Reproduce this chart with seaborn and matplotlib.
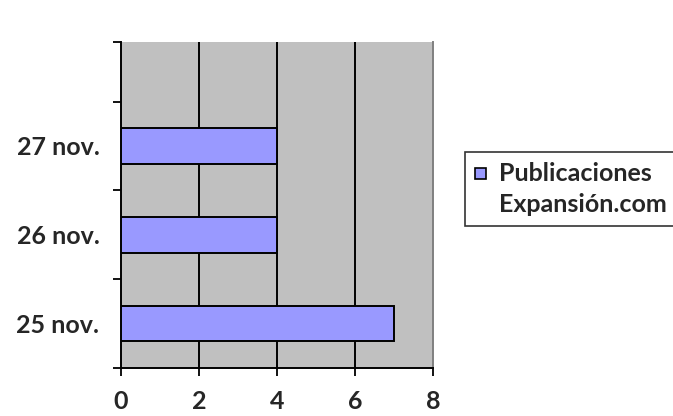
import matplotlib
matplotlib.use("Agg")
import matplotlib.pyplot as plt
import seaborn as sns
import pandas as pd
from matplotlib.patches import Patch, Rectangle
from matplotlib.legend_handler import HandlerPatch

# Daily publication counts
dates = ["25 nov.", "26 nov.", "27 nov."]
counts = [7, 4, 4]
series_name = "Publicaciones\nExpansión.com"
x_ticks = [0, 2, 4, 6, 8]

sns.set_theme(style="white")
plt.rcParams["font.family"] = ["Lato", "DejaVu Sans"]
plt.rcParams["font.weight"] = "bold"

FS = 18
df = pd.DataFrame({"fecha": dates, "publicaciones": counts})

fig = plt.figure(figsize=(6.73, 4.16), dpi=100)
ax = fig.add_axes([121 / 673, 1 - 368 / 416, (433 - 121) / 673, (368 - 42) / 416])
ax.set_facecolor("#C0C0C0")

order = dates[::-1]  # latest date on top
sns.barplot(data=df, x="publicaciones", y="fecha", order=order, orient="h",
            color="#9999FF", saturation=1, width=0.4, edgecolor="black",
            linewidth=1.4, ax=ax, zorder=3)

ax.set_xlim(0, 8)
ax.set_ylim(2.5, -1.17)
ax.set_xticks(x_ticks)
ax.set_xticklabels([str(v) for v in x_ticks], fontsize=FS, fontweight="bold")
ax.tick_params(axis="x", direction="out", length=5.5, width=1.3, color="black",
               pad=10.5, bottom=True)

ax.set_yticks(range(len(order)))
ax.set_yticklabels(order, fontsize=FS, fontweight="bold")
ax.tick_params(axis="y", which="major", length=0, pad=15.5)
ax.set_yticks([2.5, 1.5, 0.5, -0.5, -1.17], minor=True)
ax.tick_params(axis="y", which="minor", direction="out", length=5.8, width=1.3,
               color="black", left=True)

for v in x_ticks[1:-1]:
    ax.axvline(v, color="black", linewidth=1.4, zorder=1)

ax.set_xlabel("")
ax.set_ylabel("")
ax.grid(False)

for side in ["left", "bottom"]:
    ax.spines[side].set_color("black")
    ax.spines[side].set_linewidth(1.4)
ax.spines["top"].set_visible(False)
ax.spines["right"].set_color("#808080")
ax.spines["right"].set_linewidth(1.4)


def top_square(legend, orig_handle, xdescent, ydescent, width, height, fontsize):
    # square key aligned with the first line of the label
    side = 8.0
    return Rectangle((-xdescent, -ydescent + 12.5), side, side)


handle = Patch(facecolor="#9999FF", edgecolor="black", linewidth=1.2)
leg = fig.legend([handle], [series_name], loc="upper left",
                 bbox_to_anchor=(465 / 673, 1 - 152 / 416),
                 frameon=True, fancybox=False, handlelength=0.45,
                 handleheight=0.45, handletextpad=0.5, borderpad=0.4,
                 borderaxespad=0,
                 handler_map={Patch: HandlerPatch(patch_func=top_square)},
                 prop={"size": FS, "weight": "bold"})
for t in leg.get_texts():
    t.set_linespacing(1.4)
leg.get_frame().set_edgecolor("black")
leg.get_frame().set_linewidth(1.2)

fig.savefig("out.png", dpi=100)
